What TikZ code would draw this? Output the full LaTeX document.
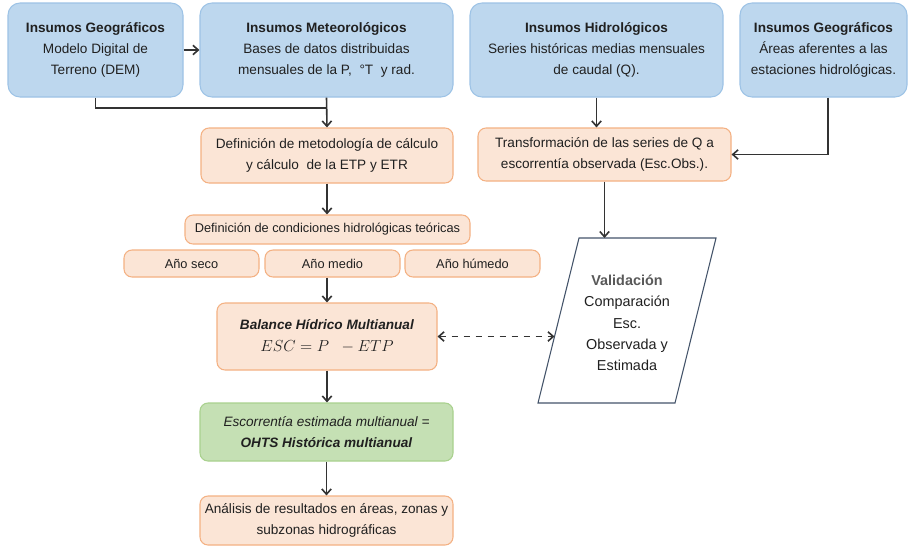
\documentclass[tikz,border=0pt]{standalone}
\usepackage{fontspec}
\setmainfont{Liberation Sans}
\usetikzlibrary{arrows.meta}
\definecolor{bfill}{HTML}{BDD7EE}
\definecolor{bdraw}{HTML}{9DC3E6}
\definecolor{ofill}{HTML}{FBE5D6}
\definecolor{odraw}{HTML}{F4B183}
\definecolor{gfill}{HTML}{C5E0B4}
\definecolor{gdraw}{HTML}{A9D18E}
\definecolor{pdraw}{HTML}{44546A}
\definecolor{txt}{HTML}{202020}
\definecolor{lin}{HTML}{333333}
\tikzset{
  base/.style={align=center, text=txt, inner sep=2pt, font=\fontsize{10.2pt}{15.5pt}\selectfont},
  bluebox/.style={base, fill=bfill, draw=bdraw, line width=0.8pt, rounded corners=9pt},
  orbox/.style={base, fill=ofill, draw=odraw, line width=0.8pt, rounded corners=6pt},
  grbox/.style={base, fill=gfill, draw=gdraw, line width=0.8pt, rounded corners=6pt},
  conn/.style={draw=lin, line width=1.2pt},
  arr/.style={conn, -{Straight Barb[length=4pt,width=7pt]}},
  darr/.style={conn, dash pattern=on 5pt off 4pt, {Straight Barb[length=4pt,width=7pt]}-{Straight Barb[length=4pt,width=7pt]}}
}
\begin{document}
\begin{tikzpicture}[x=0.75pt,y=-0.75pt]
\useasboundingbox[fill=white] (0,0) rectangle (909,546);
% top row
\node[bluebox, minimum width=131.25pt, minimum height=70.5pt] (g1) at (95.5,50)
  {\textbf{Insumos Geográficos}\\Modelo Digital de\\Terreno (DEM)};
\node[bluebox, minimum width=189.75pt, minimum height=70.5pt] (met) at (326.5,50)
  {\textbf{Insumos Meteorológicos}\\Bases de datos distribuidas\\mensuales de la P,\ \ °T\ \ y rad.};
\node[bluebox, minimum width=189.75pt, minimum height=70.5pt] (hid) at (596.5,50)
  {\textbf{Insumos Hidrológicos}\\Series históricas medias mensuales\\de caudal (Q).};
\node[bluebox, minimum width=125.25pt, minimum height=70.5pt] (g2) at (823.5,50)
  {\textbf{Insumos Geográficos}\\Áreas aferentes a las\\estaciones hidrológicas.};
% second row
\node[orbox, minimum width=189pt, minimum height=41.25pt] (def) at (327,155.5)
  {Definición de metodología de cálculo\\y cálculo\ \ de la ETP y ETR};
\node[orbox, minimum width=189.75pt, minimum height=39.75pt] (trans) at (604.5,154.5)
  {Transformación de las series de Q a\\escorrentía observada (Esc.Obs.).};
\node[orbox, minimum width=213.75pt, minimum height=21.75pt, font=\fontsize{9.6pt}{12pt}\selectfont] (cond) at (327.5,229.5)
  {Definición de condiciones hidrológicas teóricas};
\node[orbox, minimum width=101.25pt, minimum height=20.25pt, font=\fontsize{9.6pt}{12pt}\selectfont] (seco) at (191.5,263.5) {Año seco};
\node[orbox, minimum width=101.25pt, minimum height=20.25pt, font=\fontsize{9.6pt}{12pt}\selectfont] (medio) at (332.5,263.5) {Año medio};
\node[orbox, minimum width=101.25pt, minimum height=20.25pt, font=\fontsize{9.6pt}{12pt}\selectfont] (humedo) at (472.5,263.5) {Año húmedo};
\node[orbox, minimum width=165pt, minimum height=50.25pt] (bal) at (327,336.5)
  {\textbf{\textit{Balance Hídrico Multianual}}\\[1pt]{\large $ESC = P\ \ - ETP$}};
\node[grbox, minimum width=189.75pt, minimum height=43.5pt] (est) at (326.5,432)
  {\textit{Escorrentía estimada multianual =}\\\textbf{\textit{OHTS Histórica multianual}}};
\node[orbox, minimum width=189.75pt, minimum height=36.75pt] (ana) at (326.5,520.5)
  {Análisis de resultados en áreas, zonas y\\subzonas hidrográficas};
% parallelogram
\coordinate (p1) at (579,238);
\coordinate (p2) at (716,238);
\coordinate (p3) at (675,403);
\coordinate (p4) at (538,403);
\draw[draw=pdraw, line width=0.8pt, fill=white] (p1) -- (p2) -- (p3) -- (p4) -- cycle;
\node[base, font=\fontsize{10.8pt}{16pt}\selectfont] (val) at (627,323)
  {\textcolor[HTML]{595959}{\textbf{Validación}}\\Comparación\\Esc.\\Observada y\\Estimada};
\coordinate (ptop) at (604.5,238);
\coordinate (pleft) at (554.5,336.5);
\coordinate (j1) at (326.5,108);
% connectors
\draw[arr] (g1.east) -- (met.west);
\draw[conn] (g1.south) |- (j1);
\draw[arr] (met.south) -- (def.north);
\draw[arr] (hid.south) -- (hid.south |- trans.north);
\draw[arr] ([xshift=3.4pt]g2.south) |- (trans.east);
\draw[arr] (trans.south) -- (ptop);
\draw[arr] (def.south) -- (def.south |- cond.north);
\draw[arr] (bal.north |- medio.south) -- (bal.north);
\draw[darr] (bal.east) -- (pleft);
\draw[arr] (bal.south) -- (bal.south |- est.north);
\draw[arr] (est.south) -- (ana.north);
\end{tikzpicture}
\end{document}
